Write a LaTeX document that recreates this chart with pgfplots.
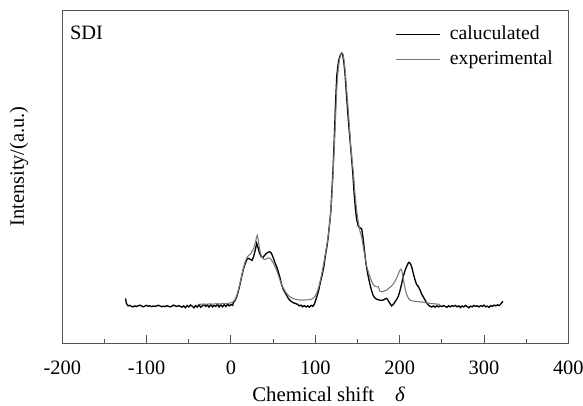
\documentclass[border=0pt]{standalone}
\usepackage{fontspec}
\setmainfont{Liberation Serif}
\usepackage{pgfplots}
\pgfplotsset{compat=1.18}
\definecolor{axgray}{rgb}{0.33,0.33,0.33}
\definecolor{expgray}{rgb}{0.47,0.47,0.47}
\newcommand{\ff}{\fontsize{15.3}{18}\selectfont}
\newcommand{\fl}{\fontsize{14.8}{17}\selectfont}
\newcommand{\fx}{\fontsize{15.6}{18}\selectfont}
\begin{document}
\begin{tikzpicture}
\begin{axis}[
  name=ax,
  scale only axis,
  width=379.5pt, height=249.5pt,
  xmin=-200, xmax=400, ymin=0, ymax=332.6,
  axis line style={axgray, line width=0.7pt},
  xtick={-200,-100,0,100,200,300,400},
  xticklabels={-200,-100,0,100,200,300,400},
  minor xtick={-150,-50,50,150,250,350},
  ytick=\empty,
  xtick pos=bottom,
  tick align=inside,
  major tick length=6pt,
  minor tick length=3pt,
  tick style={axgray, line width=0.7pt},
  font=\ff,
  xticklabel style={font=\ff, yshift=-9.5pt},
  xlabel={Chemical shift\quad \textit{δ}},
  ylabel={Intensity/(a.u.)},
  xlabel style={font=\fx, xshift=10pt, yshift=-2.5pt},
  ylabel style={font=\ff, yshift=22pt, xshift=8pt},
  legend style={draw=none, fill=none, at={(0.978,0.966)}, anchor=north east,
    font=\fl, row sep=4pt, column sep=7pt,
    nodes={inner sep=0pt, text height=11pt, text depth=3.5pt}},
  legend cell align=left,
  legend image code/.code={\draw[#1] (0pt,0pt) -- (33pt,0pt);},
]
\addplot[black, line width=1.0pt] coordinates {
(-125,45) (-124,40) (-122,37.5) (-120,38) (-118,37) (-116,36.5) (-114,37.5) (-112,36.8) (-110,37.6) (-108,38.2) (-106,37.4) (-104,36.6) (-102,37.3) (-100,38) (-98,37.2) (-96,37.6) (-94,36.7) (-92,37.4) (-90,36.9) (-88,37.5) (-86,38.1) (-84,37.3) (-82,36.6) (-80,37.2) (-78,36.8) (-76,37.7) (-74,37.1) (-72,36.4) (-70,37.3) (-68,38.3) (-66,37.4) (-64,36.9) (-62,37.8) (-60,37) (-58,36.2) (-56,37.5) (-54,35.6) (-52,37.9) (-50,36.5) (-48,38.4) (-46,37.2) (-44,35.5) (-42,37.8) (-40,36.3) (-38,38.6) (-36,36.1) (-34,37.5) (-32,39) (-30,37) (-28,38.4) (-26,36.2) (-24,38.8) (-22,36.5) (-20,38) (-18,37) (-16,39.2) (-14,36.4) (-12,38.5) (-10,36.6) (-8,38.8) (-6,36.8) (-4,39.2) (-2,37.5) (0,38.8) (2,38) (3,41) (5,43) (7,47) (9,53) (11,60) (13,68) (15,75) (17,80) (19,84) (21,85) (23,84) (25,83) (27,87) (29,94) (30.5,100) (32,96) (34,90) (36,86.5) (38,86) (40,88) (42,90) (44,91) (46,91.6) (48,90) (50,86) (52,81) (54,77) (56,72) (58,66) (60,59) (62,54) (64,51) (66,48) (68,45) (70,43) (73,41) (76,40) (79,39) (81,37.5) (83,38.2) (85,36.6) (87,37.8) (89,36.4) (91,37.5) (93,36.2) (95,38) (97,37) (99,39.5)
(101.6,46) (104,53) (106,61) (108,68) (110,76) (112,88) (114,98) (115.4,107) (117,120) (118.5,133) (119.5,150) (121,173) (122.5,205) (124,240) (125.5,268) (127.5,282) (129.5,288) (131,290) (132.5,288.5) (134,280) (135.2,270) (137,248) (139,225) (141,205) (143,185) (144.5,170) (146,150) (147.5,135) (149,124) (151,117) (153,115.5) (155,114.5) (156.5,106) (158,95) (160,80) (162,70) (164,62) (166,55) (168,49) (170,46) (172,44.5) (175,43.5) (178,43) (181,43.5) (183,44.5) (184.6,45) (186,43.5) (188,40.5) (190.5,37.5) (192.5,39) (194.5,41.5) (196.5,44) (198.4,47) (200.5,53) (202.5,60) (204.3,67) (206.3,72.5) (208.3,77) (210,80) (211.1,81) (212.5,80) (214.3,76.5) (216,70.5) (218.2,63.5) (220,59) (222,57) (224.1,53.5) (226,49.5) (228,46.5) (230,43.5) (232,40.5) (234,38.5) (236,37) (238,36.4) (240,37.4) (242,36.2) (244,37.6) (246,36.5) (248,37.5) (250,36.8) (252,37.8) (254,37) (256,36) (258,37.6) (260,36.5) (262,37.8) (264,37) (266,38) (268,36.6) (270,37.5) (272,35.8) (274,37.4) (276,36.4) (278,37.9) (280,36.8) (282,35.6) (284,37.2) (286,36.5) (288,38) (290,37) (292,37.6) (294,36.4) (296,37.8) (298,37) (300,38.2) (302,36.5) (304,37.3) (306,36) (308,37.7) (310,37) (312,38.3) (314,37.5) (316,38.5) (318,37.8) (320,39.5) (322.5,42)
};
\addlegendentry{caluculated}
\addplot[expgray, line width=0.8pt] coordinates {
(-37,39) (-34,39.3) (-30,39) (-26,39.5) (-22,39.2) (-18,39.6) (-14,39.4) (-10,39.8) (-6,39.7) (-2,40.2) (1,40.8) (3,42) (5,44) (7,48) (9,54) (11,61) (13,69) (15,76) (17,82) (19,86) (21,88) (23,89) (25,92) (27,95) (29,101) (30.3,106) (31.2,108) (32.2,104) (33.5,97) (35,90) (37,86) (39,84) (41,84) (43,85) (45,85.5) (47,84.5) (49,82) (51,79) (53,75.5) (55,71) (57,66) (59,61) (61,57) (63,54) (65,51) (68,48) (71,46) (75,44.5) (80,43.5) (85,43.3) (90,43.5) (95,44) (98,45.5) (100,47.5) (102,51) (104,56) (106,63) (108,71) (110,80) (112,90) (114,100) (116,112) (118,128) (119.5,145) (121,168) (122.5,195) (124,225) (125.5,255) (127,273) (128.5,283) (130,288) (131.6,290.5) (133,289) (134.5,281) (136,266) (138,245) (140,222) (142,198) (144,180) (145,172) (147,150) (149,133) (151,121) (153,112) (155,106) (157,96) (159,86) (161,77) (163,71) (165,66) (167,61.5) (169,58.5) (171,57) (173,56.5) (174.7,56.6) (176.7,52) (178.5,51.6) (181,52.2) (184.6,53.3) (187,55) (190,57) (192.5,59.5) (194.5,62) (196.5,65.5) (198.5,69.5) (200.4,73.3) (201.6,74.3) (202.8,72) (204,66) (205.5,59) (207,52.5) (208.5,48.5) (210.5,45) (212.3,43.3) (215,42.5) (218,42) (224,41.6) (230,40.8) (236,40) (244,39.3) (248,39)
};
\addlegendentry{experimental}
\node[anchor=west, inner sep=0pt, font=\ff] at (rel axis cs:0.015,0.933) {SDI};
\end{axis}
\pgfresetboundingbox
\path ([shift={(-46.7pt,-46.3pt)}]ax.south west) rectangle ([shift={(11pt,8pt)}]ax.north east);
\end{tikzpicture}
\end{document}
